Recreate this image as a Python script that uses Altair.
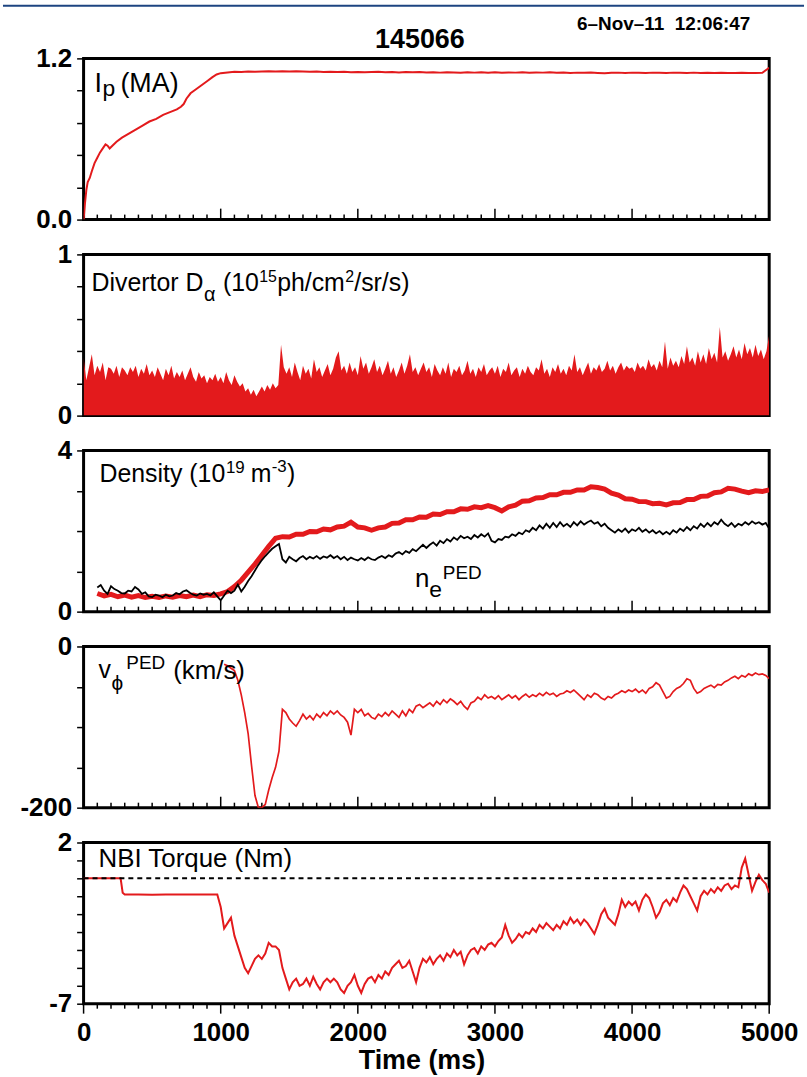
import altair as alt
import pandas as pd

RED = "#e31a1c"
FONT = "Liberation Sans, Arial, Helvetica, sans-serif"
W, H = 689, 162

# ---------------- data ----------------
# Plasma current Ip (MA)
IP_T_EARLY = [0, 10, 20, 30, 45, 60, 80, 100, 120, 140,
              160, 175, 190, 210, 240, 280, 330, 380, 430, 480,
              530, 580, 630, 680, 710, 730, 750, 780, 820, 860,
              900, 940, 970]
IP_V_EARLY = [0.0, 0.12, 0.22, 0.28, 0.31, 0.36, 0.42, 0.46, 0.50, 0.53,
              0.56, 0.55, 0.53, 0.55, 0.58, 0.61, 0.64, 0.67, 0.70, 0.73,
              0.75, 0.78, 0.80, 0.82, 0.84, 0.86, 0.90, 0.94, 0.97, 1.00,
              1.03, 1.06, 1.08]
IP_V_FLAT = [  # 1000..5000 every 50 ms
    1.09, 1.095, 1.10, 1.098, 1.102, 1.10, 1.103, 1.105, 1.102, 1.104,
    1.103, 1.105, 1.102, 1.10, 1.102, 1.099, 1.101, 1.098, 1.10, 1.097,
    1.099, 1.096, 1.098, 1.10, 1.097, 1.099, 1.095, 1.098, 1.096, 1.098,
    1.095, 1.097, 1.094, 1.097, 1.095, 1.093, 1.096, 1.094, 1.096, 1.093,
    1.096, 1.093, 1.095, 1.094, 1.096, 1.093, 1.095, 1.094, 1.096, 1.093,
    1.095, 1.092, 1.094, 1.093, 1.095, 1.092, 1.09, 1.093, 1.094, 1.092,
    1.094, 1.093, 1.092, 1.094, 1.093, 1.092, 1.094, 1.093, 1.092, 1.094,
    1.092, 1.093, 1.091, 1.093, 1.092, 1.091, 1.093, 1.092, 1.091, 1.093,
    1.13]

# Divertor D-alpha upper envelope, 0..5000 every 20 ms
DALPHA = [
    0.36, 0.22, 0.30, 0.38, 0.25, 0.31, 0.27, 0.33, 0.22, 0.30, 0.29, 0.26, 0.31, 0.24, 0.30, 0.28, 0.25, 0.30, 0.27, 0.31, 0.24, 0.29, 0.26, 0.32, 0.25,
    0.28, 0.24, 0.30, 0.26, 0.22, 0.29, 0.25, 0.31, 0.23, 0.27, 0.24, 0.28, 0.22, 0.26, 0.30, 0.24, 0.21, 0.27, 0.23, 0.25, 0.20, 0.24, 0.22, 0.26, 0.21,
    0.24, 0.20, 0.27, 0.22, 0.19, 0.25, 0.21, 0.18, 0.20, 0.15, 0.17, 0.13, 0.16, 0.12, 0.15, 0.18, 0.15, 0.19, 0.16, 0.20, 0.17, 0.19, 0.44, 0.30, 0.26,
    0.30, 0.24, 0.33, 0.27, 0.22, 0.31, 0.26, 0.29, 0.23, 0.35, 0.27, 0.30, 0.24, 0.28, 0.32, 0.25, 0.29, 0.36, 0.40, 0.28, 0.31, 0.26, 0.33, 0.27, 0.30,
    0.25, 0.37, 0.29, 0.33, 0.26, 0.30, 0.35, 0.27, 0.31, 0.25, 0.29, 0.34, 0.26, 0.30, 0.24, 0.28, 0.33, 0.26, 0.31, 0.38, 0.27, 0.30, 0.25, 0.29, 0.33,
    0.27, 0.30, 0.24, 0.32, 0.28, 0.25, 0.30, 0.26, 0.33, 0.24, 0.29, 0.27, 0.31, 0.25, 0.28, 0.34, 0.26, 0.29, 0.24, 0.30, 0.27, 0.32, 0.25, 0.28, 0.30,
    0.26, 0.31, 0.24, 0.29, 0.27, 0.33, 0.25, 0.28, 0.30, 0.24, 0.29, 0.26, 0.31, 0.27, 0.25, 0.30, 0.28, 0.35, 0.26, 0.29, 0.24, 0.30, 0.27, 0.32, 0.26,
    0.29, 0.25, 0.31, 0.28, 0.38, 0.27, 0.30, 0.25, 0.29, 0.33, 0.26, 0.30, 0.28, 0.32, 0.27, 0.29, 0.34, 0.28, 0.31, 0.26, 0.30, 0.33, 0.28, 0.31, 0.29,
    0.30, 0.27, 0.33, 0.29, 0.31, 0.28, 0.35, 0.30, 0.32, 0.28, 0.34, 0.30, 0.46, 0.29, 0.36, 0.31, 0.34, 0.30, 0.37, 0.32, 0.43, 0.33, 0.36, 0.31, 0.40,
    0.33, 0.38, 0.32, 0.42, 0.35, 0.39, 0.33, 0.55, 0.36, 0.40, 0.34, 0.38, 0.43, 0.36, 0.41, 0.35, 0.45, 0.38, 0.42, 0.36, 0.44, 0.37, 0.41, 0.35, 0.40,
    0.50]

# Line-averaged density (red), 100..5000 every 50 ms
DENS = [
    0.45, 0.39, 0.43, 0.37, 0.41, 0.36, 0.40, 0.35,
    0.38, 0.35, 0.39, 0.36, 0.40, 0.37, 0.41, 0.37, 0.42, 0.40,
    0.44, 0.50, 0.62, 0.78, 0.98, 1.18, 1.40, 1.62, 1.82, 1.86,
    1.85, 1.92, 1.92, 1.99, 1.98, 2.05, 2.03, 2.10, 2.12, 2.22,
    2.10, 2.08, 2.02, 2.08, 2.10, 2.19, 2.20, 2.28, 2.28, 2.35,
    2.34, 2.42, 2.41, 2.48, 2.48, 2.55, 2.54, 2.60, 2.58, 2.63,
    2.58, 2.50, 2.60, 2.64, 2.74, 2.75, 2.82, 2.83, 2.90, 2.90,
    2.96, 2.96, 3.02, 3.02, 3.10, 3.08, 3.04, 2.94, 2.89, 2.80,
    2.79, 2.73, 2.73, 2.68, 2.69, 2.65, 2.70, 2.71, 2.78, 2.78,
    2.86, 2.87, 2.95, 2.97, 3.06, 3.04, 2.99, 2.95, 3.00, 2.98,
    3.02]

# Pedestal density ne_PED (black), 100..5000 every 25 ms
NEPED = [
    0.60, 0.66, 0.52, 0.44, 0.63, 0.56, 0.52, 0.46, 0.45, 0.52, 0.50, 0.61, 0.55, 0.44, 0.48, 0.38,
    0.36, 0.42, 0.40, 0.36, 0.42, 0.38, 0.40, 0.46, 0.43, 0.50, 0.53, 0.47, 0.42, 0.40, 0.45, 0.42, 0.44, 0.40, 0.48, 0.38,
    0.28, 0.40, 0.52, 0.46, 0.52, 0.67, 0.50, 0.62, 0.76, 0.88, 1.02, 1.16, 1.28, 1.38, 1.47, 1.56, 1.62, 1.68, 1.30, 1.22,
    1.36, 1.30, 1.25, 1.33, 1.38, 1.30, 1.36, 1.32, 1.38, 1.31, 1.37, 1.34, 1.40, 1.33, 1.38, 1.30, 1.36, 1.28, 1.34, 1.30,
    1.27, 1.33, 1.28, 1.35, 1.30, 1.28, 1.34, 1.38, 1.33, 1.40, 1.36, 1.44, 1.48, 1.42, 1.50, 1.46, 1.55, 1.50, 1.58, 1.66,
    1.58, 1.66, 1.72, 1.64, 1.76, 1.70, 1.80, 1.74, 1.84, 1.78, 1.88, 1.82, 1.86, 1.80, 1.90, 1.84, 1.92, 1.86, 1.94, 1.76,
    1.72, 1.80, 1.78, 1.86, 1.84, 1.92, 1.88, 1.96, 1.92, 2.02, 1.98, 2.08, 2.02, 2.14, 2.06, 2.18, 2.08, 2.20, 2.10, 2.22,
    2.12, 2.18, 2.10, 2.22, 2.14, 2.24, 2.16, 2.22, 2.26, 2.18, 2.22, 2.12, 2.18, 2.08, 2.02, 1.96, 2.04, 1.98, 2.06, 1.96,
    2.04, 2.00, 2.08, 1.98, 2.04, 1.96, 2.02, 1.94, 2.00, 1.92, 1.98, 1.92, 2.02, 1.96, 2.06, 2.00, 2.10, 2.02, 2.12, 2.06,
    2.18, 2.10, 2.20, 2.12, 2.22, 2.16, 2.28, 2.18, 2.12, 2.20, 2.10, 2.18, 2.14, 2.22, 2.16, 2.24, 2.18, 2.22, 2.16, 2.20,
    2.06]

# Pedestal toroidal rotation (km/s), 1025..5000 every 25 ms
VPHI = [
    -22, -24, -27, -30, -42, -60, -82, -108, -148, -185, -200, -200, -196, -178, -163, -150, -130, -78, -82,
    -90, -95, -99, -92, -84, -90, -86, -91, -84, -88, -82, -86, -80, -84, -80, -85, -88, -94, -110, -78,
    -82, -78, -86, -83, -88, -90, -84, -87, -82, -86, -80, -84, -88, -80, -86, -78, -82, -74, -72, -76,
    -73, -70, -74, -68, -72, -66, -70, -65, -68, -72, -68, -74, -78, -70, -68, -63, -66, -60, -64, -62,
    -65, -61, -66, -63, -60, -64, -61, -66, -62, -59, -63, -60, -62, -58, -61, -57, -60, -58, -62, -59,
    -58, -55, -57, -54, -58, -62, -66, -60, -63, -58, -60, -64, -66, -62, -64, -60, -58, -55, -57, -54,
    -56, -53, -57, -54, -58, -52, -50, -45, -48, -56, -64, -62, -56, -52, -50, -46, -40, -42, -52, -58,
    -56, -52, -50, -48, -51, -47, -48, -44, -42, -39, -37, -40, -36, -38, -34, -36, -33, -35, -34, -36,
    -40]

# NBI torque (Nm)
NBI_T_EARLY = [0, 270, 285, 300, 400, 500, 600, 700, 800, 900, 975]
NBI_V_EARLY = [0.0, 0.0, -0.8, -0.9, -0.9, -0.92, -0.9, -0.9, -0.91, -0.9, -0.9]
NBI_V = [  # 1000..5000 every 25 ms
    -1.6, -2.8, -2.5, -2.2, -3.2, -3.8, -4.4, -5.0, -5.3, -4.9, -4.5, -4.3, -4.5, -4.2, -3.6, -3.8, -3.8, -4.0, -5.0, -5.6,
    -6.2, -5.8, -5.6, -6.0, -5.9, -5.6, -6.0, -5.5, -5.9, -6.2, -5.8, -5.6, -5.8, -5.6, -5.8, -6.2, -6.4, -6.0, -5.8, -5.4,
    -6.0, -6.4, -5.9, -5.6, -5.5, -5.8, -5.4, -5.6, -5.2, -5.4, -5.0, -4.8, -4.6, -5.0, -4.9, -4.6, -5.2, -5.8, -5.0, -4.5,
    -4.7, -4.4, -4.8, -4.5, -4.3, -4.6, -4.2, -4.4, -4.0, -4.3, -4.1, -4.8, -4.3, -4.0, -3.9, -4.2, -3.8, -4.0, -3.7, -3.6,
    -3.8, -3.5, -3.3, -2.6, -3.2, -3.6, -3.4, -3.1, -3.3, -3.0, -3.1, -2.8, -3.0, -2.6, -2.8, -2.5, -2.7, -2.9, -2.6, -2.8,
    -2.4, -2.6, -2.2, -2.5, -2.3, -2.6, -2.3, -2.5, -2.8, -3.1, -2.6, -2.0, -1.7, -2.2, -2.4, -2.6, -2.0, -1.2, -1.6, -1.3,
    -1.5, -1.3, -1.8, -1.2, -0.9, -1.1, -1.6, -2.2, -1.9, -1.4, -1.2, -1.5, -1.1, -1.3, -0.8, -0.4, -0.6, -1.0, -1.4, -1.8,
    -1.0, -0.7, -0.9, -0.6, -0.8, -0.5, -0.7, -0.4, -0.3, -0.6, -0.4, -0.5, 0.6, 1.1, 0.2, -0.7, -0.2, 0.2, -0.1, -0.3,
    -0.8]
NBI_REF = [0]

# axis tick values / labels
X_LABELS = [0, 1000, 2000, 3000, 4000, 5000]
X_MINOR = [t for t in range(100, 5000, 100) if t % 1000 != 0]
X_MAJOR_INNER = [1000, 2000, 3000, 4000]


def grid(start, step, n):
    return [start + step * i for i in range(n)]


# ---------------- building blocks ----------------
xs = alt.Scale(domain=[0, 5000], nice=False, zero=False)
ONE = pd.DataFrame({"k": [0]})

X5AX = alt.Axis(values=X_LABELS, ticks=False, tickSize=0, domain=False, grid=False,
                labelFont=FONT, labelFontSize=26, labelFontWeight="bold",
                labelColor="black", labelPadding=16, labelFlush=False,
                labelOverlap=False, format="d", title=None)


def xenc(axis):
    return alt.X("t:Q", scale=xs, axis=axis)


def yaxis(vals, expr):
    return alt.Axis(values=vals, labelExpr=expr, domain=False, grid=False,
                    tickSize=7, tickWidth=1.5, tickColor="black",
                    labelFont=FONT, labelFontSize=26, labelFontWeight="bold",
                    labelColor="black", labelPadding=5, labelOverlap=False,
                    title=None)


def txt(s, x, y, size, weight="normal", align="left"):
    return alt.Chart(ONE).mark_text(
        text=s, align=align, baseline="alphabetic", font=FONT,
        fontSize=size, fontWeight=weight, color="black"
    ).encode(x=alt.value(x), y=alt.value(y))


def inner_ticks():
    a = alt.Chart(pd.DataFrame({"t": X_MINOR})).mark_rule(color="black", strokeWidth=1.5).encode(
        x=xenc(None), y=alt.value(H), y2=alt.value(H - 5))
    b = alt.Chart(pd.DataFrame({"t": X_MAJOR_INNER})).mark_rule(color="black", strokeWidth=1.5).encode(
        x=xenc(None), y=alt.value(H), y2=alt.value(H - 11))
    return [a, b]


def outer_ticks():
    a = alt.Chart(pd.DataFrame({"t": X_MINOR})).mark_rule(color="black", strokeWidth=1.5).encode(
        x=xenc(X5AX), y=alt.value(H), y2=alt.value(H + 5))
    b = alt.Chart(pd.DataFrame({"t": X_LABELS})).mark_rule(color="black", strokeWidth=1.5).encode(
        x=xenc(X5AX), y=alt.value(H), y2=alt.value(H + 10))
    return [a, b]


# ---------------- panel 1: Ip ----------------
ip_df = pd.DataFrame({"t": IP_T_EARLY + grid(1000, 50, len(IP_V_FLAT)),
                      "v": IP_V_EARLY + IP_V_FLAT})
y1 = alt.Y("v:Q", scale=alt.Scale(domain=[0, 1.2], nice=False, zero=False),
           axis=yaxis([0, 0.24, 0.48, 0.72, 0.96, 1.2],
                      "datum.value > 1.19 ? '1.2' : (datum.value < 0.01 ? '0.0' : '')"))
p1 = alt.layer(
    alt.Chart(ip_df).mark_line(color=RED, strokeWidth=2, clip=True).encode(x=xenc(None), y=y1),
    *inner_ticks(),
    txt("I", 11, 34, 27),
    txt("p", 19, 38, 23),
    txt("(MA)", 37, 34, 27),
    txt("145066", 338, -10, 27, "bold", "center"),
    txt("6\u2013Nov\u201311\u00a0\u00a012:06:47", 670, -29, 19, "bold", "right"),
    alt.Chart(ONE).mark_rule(color="#1d4481", strokeWidth=2).encode(
        x=alt.value(-81), x2=alt.value(724), y=alt.value(-53)),
).properties(width=W, height=H)

# ---------------- panel 2: D-alpha ----------------
da_df = pd.DataFrame({"t": grid(0, 20, len(DALPHA)), "v": DALPHA})
y2 = alt.Y("v:Q", scale=alt.Scale(domain=[0, 1], nice=False, zero=False),
           axis=yaxis([0, 0.2, 0.4, 0.6, 0.8, 1.0],
                      "datum.value > 0.99 ? '1' : (datum.value < 0.01 ? '0' : '')"))
p2 = alt.layer(
    *inner_ticks(),
    alt.Chart(da_df).mark_area(color=RED, opacity=1, clip=True).encode(x=xenc(None), y=y2),
    txt("Divertor D", 8, 37, 25),
    txt("\u03b1", 121, 47, 20),
    txt("(10", 140, 37, 25),
    txt("15", 176.5, 28, 16),
    txt("ph/cm", 194.5, 37, 25),
    txt("2", 263, 28, 16),
    txt("/sr/s)", 272, 37, 25),
).properties(width=W, height=H)

# ---------------- panel 3: density ----------------
dens_df = pd.DataFrame({"t": grid(100, 50, len(DENS)), "v": DENS})
ne_df = pd.DataFrame({"t": grid(100, 25, len(NEPED)), "v": NEPED})
y3 = alt.Y("v:Q", scale=alt.Scale(domain=[0, 4], nice=False, zero=False),
           axis=yaxis([0, 1, 2, 3, 4],
                      "datum.value > 3.99 ? '4' : (datum.value < 0.01 ? '0' : '')"))
p3 = alt.layer(
    *inner_ticks(),
    alt.Chart(dens_df).mark_line(color=RED, strokeWidth=5, clip=True).encode(x=xenc(None), y=y3),
    alt.Chart(ne_df).mark_line(color="black", strokeWidth=1.8, clip=True).encode(x=xenc(None), y=y3),
    txt("Density (10", 16, 32, 25),
    txt("19", 143, 23, 17),
    txt("m", 168, 32, 25),
    txt("-3", 189, 22, 17),
    txt(")", 204.5, 32, 25),
    txt("n", 333, 137, 26),
    txt("e", 347.5, 147, 23),
    txt("PED", 361, 129, 19),
).properties(width=W, height=H)

# ---------------- panel 4: v_phi PED ----------------
vp_df = pd.DataFrame({"t": grid(1025, 25, len(VPHI)), "v": VPHI})
y4 = alt.Y("v:Q", scale=alt.Scale(domain=[-200, 0], nice=False, zero=False),
           axis=yaxis([-200, -150, -100, -50, 0],
                      "datum.value > -0.01 ? '0' : (datum.value < -199.9 ? '-200' : '')"))
p4 = alt.layer(
    *inner_ticks(),
    alt.Chart(vp_df).mark_line(color=RED, strokeWidth=1.7, clip=True).encode(x=xenc(None), y=y4),
    txt("v", 15, 32, 25),
    txt("\u03d5", 28, 44, 21),
    txt("PED", 43, 23, 19),
    txt("(km/s)", 90, 33, 26),
).properties(width=W, height=H)

# ---------------- panel 5: NBI torque ----------------
nbi_df = pd.DataFrame({"t": NBI_T_EARLY + grid(1000, 25, len(NBI_V)),
                       "v": NBI_V_EARLY + NBI_V})
y5 = alt.Y("v:Q", scale=alt.Scale(domain=[-7, 2], nice=False, zero=False),
           axis=yaxis([-7, -6, -5, -4, -3, -2, -1, 0, 1, 2],
                      "datum.value > 1.99 ? '2' : (datum.value < -6.99 ? '-7' : '')"))
p5 = alt.layer(
    alt.Chart(nbi_df).mark_line(color=RED, strokeWidth=2, clip=True).encode(x=xenc(X5AX), y=y5),
    alt.Chart(pd.DataFrame({"v": NBI_REF})).mark_rule(color="black", strokeWidth=2, strokeDash=[5, 4]).encode(y=y5),
    *outer_ticks(),
    txt("NBI Torque (Nm)", 15, 25, 26),
    txt("Time (ms)", 340, H + 66, 27, "bold", "center"),
).properties(width=W, height=H)

chart = alt.vconcat(p1, p2, p3, p4, p5, spacing=35, bounds="flush").properties(
    padding=0, background="white"
).configure_view(stroke="black", strokeWidth=3)

chart.save("out.html", embed_options={"renderer": "svg", "actions": False})
